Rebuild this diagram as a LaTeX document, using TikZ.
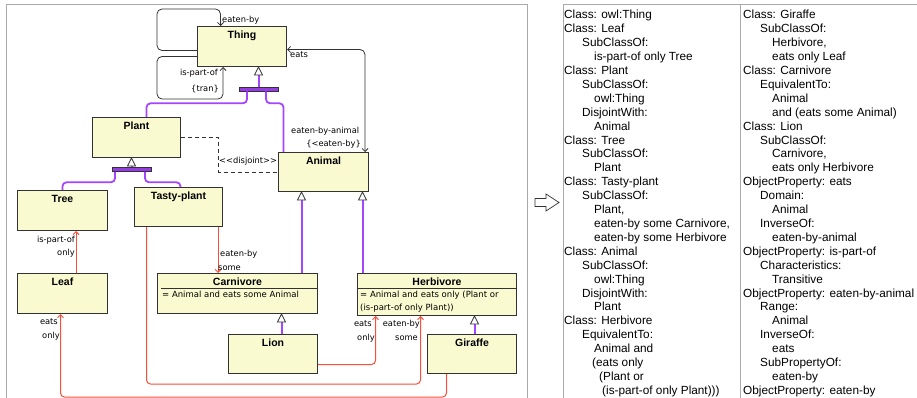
\documentclass[tikz,border=0pt]{standalone}
\usepackage{fontspec}
\setmainfont{Liberation Sans}
\newfontfamily\labfont{DejaVu Sans}
\usetikzlibrary{arrows.meta,calc}
\definecolor{boxfill}{RGB}{250,250,208}
\definecolor{boxline}{RGB}{50,50,50}
\definecolor{genpurple}{RGB}{165,70,255}
\definecolor{barpurple}{RGB}{150,60,230}
\definecolor{relred}{RGB}{248,78,58}
\definecolor{framegray}{RGB}{170,170,170}
\newcommand\genlnk[2]{\fill[genpurple] ($(#1)+(-1,0)$) rectangle ($(#2)+(1,8)$); \draw[gentri] (#2) -- ++(-4,8) -- ++(8,0) -- cycle;}
\begin{document}
\begin{tikzpicture}[x=1pt,y=-1pt,
 cls/.style={draw=boxline, fill=boxfill, line width=1pt, inner sep=0pt, anchor=north west},
 ttl/.style={font=\fontsize{10.5}{12}\selectfont\bfseries, anchor=base, inner sep=0pt},
 attr/.style={font=\labfont\fontsize{8.5}{10}\selectfont, anchor=base west, inner sep=0pt},
 lab/.style={font=\labfont\fontsize{8.3}{10}\selectfont, inner sep=0pt},
 genbar/.style={draw=boxline, fill=barpurple, line width=0.6pt, inner sep=0pt, minimum width=39pt, minimum height=4pt},
 genline/.style={draw=genpurple, line width=1.8pt},
 genbend/.style={genline, rounded corners=4pt},
 gentri/.style={draw=boxline, fill=white, line width=0.8pt, line join=miter},
 rel/.style={draw=relred, line width=1pt, -{Straight Barb[length=3pt, width=6pt]}},
 relbend/.style={rel, rounded corners=4pt},
 blk/.style={draw=boxline, line width=0.8pt, rounded corners=5pt},
 barb/.tip={Straight Barb[length=3pt, width=6pt]},
 rline/.style={font=\fontsize{11.8}{13.9}\selectfont, anchor=base west, inner sep=0pt},
 frame/.style={draw=framegray, line width=1pt}]
\useasboundingbox (0,0) rectangle (917,398);
\fill[white] (0,0) rectangle (917,398);

% frames
\draw[frame] (6,400) -- (6,5) -- (527,5) -- (527,400);
\draw[frame] (563,400) -- (563,5) -- (919,5);
\draw[frame] (740,5) -- (740,400);

% transformation arrow
\draw[draw=boxline, line width=0.7pt, fill=white] (535,198.5) -- (546,198.5) -- (546,194) -- (559,202.5) -- (546,211) -- (546,206.5) -- (535,206.5) -- cycle;

% class boxes
\node[cls, minimum width=89pt, minimum height=40pt] (thing) at (197,26) {};
\node[cls, minimum width=88pt, minimum height=40pt] (plant) at (92,117) {};
\node[cls, minimum width=90pt, minimum height=39pt] (animal) at (278,152) {};
\node[cls, minimum width=90pt, minimum height=40pt] (tree) at (17,190) {};
\node[cls, minimum width=88pt, minimum height=39pt] (tasty) at (134,187) {};
\node[cls, minimum width=90pt, minimum height=40pt] (leaf) at (17,273) {};
\node[cls, minimum width=160pt, minimum height=40pt] (carn) at (157,273) {};
\node[cls, minimum width=159pt, minimum height=42pt] (herb) at (357,273) {};
\node[cls, minimum width=89pt, minimum height=39pt] (lion) at (228,334) {};
\node[cls, minimum width=89pt, minimum height=39pt] (gir) at (427,334) {};

% titles
\node[ttl] (thingT) at ([yshift=-12.5pt]thing.north) {Thing};
\node[ttl] (plantT) at ([yshift=-12.5pt]plant.north) {Plant};
\node[ttl] (animalT) at ([yshift=-12.5pt]animal.north) {Animal};
\node[ttl] (treeT) at ([yshift=-12.5pt]tree.north) {Tree};
\node[ttl] (tastyT) at ([yshift=-12.5pt]tasty.north) {Tasty-plant};
\node[ttl] (leafT) at ([yshift=-12.5pt]leaf.north) {Leaf};
\node[ttl] (carnT) at ([yshift=-12.5pt]carn.north) {Carnivore};
\node[ttl] (herbT) at ([yshift=-12.5pt]herb.north) {Herbivore};
\node[ttl] (lionT) at ([yshift=-12.5pt]lion.north) {Lion};
\node[ttl] (girT) at ([yshift=-12.5pt]gir.north) {Giraffe};

% compartments
\draw[draw=boxline, line width=0.8pt] ([xshift=4pt,yshift=-15pt]carn.north west) -- ([xshift=-1pt,yshift=-15pt]carn.north east);
\draw[draw=boxline, line width=0.8pt] ([xshift=1pt,yshift=-15pt]herb.north west) -- ([xshift=-1pt,yshift=-15pt]herb.north east);
\node[attr] (carnA) at ([xshift=5pt,yshift=-24pt]carn.north west) {= Animal and eats some Animal};
\node[attr] (herbA1) at ([xshift=3pt,yshift=-24pt]herb.north west) {= Animal and eats only (Plant or};
\node[attr] (herbA2) at ([xshift=3pt,yshift=-37pt]herb.north west) {(is-part-of only Plant))};

% generalization bars and links
\node[genbar] (bar1) at (258.5,89) {};
\node[genbar] (bar2) at (131.5,169.5) {};
\coordinate (g1t) at (bar1.north |- thing.south);
\genlnk{bar1.north}{g1t}
\draw[genbend] ([xshift=-11.5pt]bar1.south) -- ++(0,12) -| ([xshift=10pt]plant.north);
\draw[genbend] ([xshift=7.5pt]bar1.south) -- ++(0,12) -| ([xshift=-40pt]animal.north);
\coordinate (g2t) at (bar2.north |- plant.south);
\genlnk{bar2.north}{g2t}
\draw[genbend] ([xshift=-16.5pt]bar2.south) -- ++(0,10.5) -| (tree.north);
\draw[genbend] ([xshift=13.5pt]bar2.south) -- ++(0,10.5) -| ([xshift=2pt]tasty.north);
\coordinate (g3s) at ([xshift=64pt]carn.north);
\coordinate (g3t) at ([xshift=-22pt]animal.south);
\genlnk{g3s}{g3t}
\coordinate (g4s) at ([xshift=-74.5pt]herb.north);
\coordinate (g4t) at ([xshift=39pt]animal.south);
\genlnk{g4s}{g4t}
\coordinate (g5s) at ([xshift=8.5pt]lion.north);
\coordinate (g5t) at ([xshift=44pt]carn.south);
\genlnk{g5s}{g5t}
\coordinate (g6s) at ([xshift=2.5pt]gir.north);
\coordinate (g6t) at ([xshift=37.5pt]herb.south);
\genlnk{g6s}{g6t}

% black relations on Thing
\draw[blk, -barb] ([yshift=-4pt]thing.west) -| (157,9) -| ([xshift=-21.5pt]thing.north);
\draw[blk, -barb] ([yshift=-10pt]thing.west) -| (157,99) -| ([xshift=-19pt]thing.south);
\draw[blk, barb-barb] ([yshift=-3pt]thing.east) -| ([xshift=41.5pt]animal.north);
\draw[draw=boxline, line width=0.8pt, dash pattern=on 4pt off 3pt] (plant.east) -- ++(37,0) |- (animal.west);

% red relations
\draw[rel] ([xshift=13.5pt]leaf.north) -- ([xshift=13.5pt]tree.south);
\coordinate (tp1) at ([xshift=39.5pt]tasty.south);
\draw[rel] (tp1) -- (tp1 |- carn.north);
\draw[relbend] ([xshift=-32pt]tasty.south) -- ++(0,157) -| ([xshift=-16.5pt]herb.south);
\draw[relbend] ([yshift=-10.5pt]lion.east) -| ([xshift=-61.5pt]herb.south);
\draw[relbend] ([xshift=-25.5pt]gir.south) -- ++(0,23) -| ([xshift=-2pt]leaf.south);

% labels
\node[lab, anchor=base west] (lEb) at (222,23) {eaten-by};
\node[lab, anchor=base west] (lEats) at (290,58) {eats};
\node[lab, anchor=base east] (lIpo) at (218,76) {is-part-of};
\node[lab, anchor=base east] (lTran) at (219,92) {\{tran\}};
\node[lab, anchor=base west] (lEba) at (291,134) {eaten-by-animal};
\node[lab, anchor=base east] (lSub) at (361,147) {\{<eaten-by\}};
\node[lab, anchor=base west] (lDis) at (219,164) {<<disjoint>>};
\node[lab, anchor=base east] (lIpo2) at (75,242) {is-part-of};
\node[lab, anchor=base east] (lOnly1) at (75,255) {only};
\node[lab, anchor=base west] (lEb2) at (220,256) {eaten-by};
\node[lab, anchor=base west] (lSome1) at (218,270) {some};
\node[lab, anchor=base east] (lEats2) at (58,324) {eats};
\node[lab, anchor=base east] (lOnly2) at (60,338) {only};
\node[lab, anchor=base east] (lEats3) at (372,326) {eats};
\node[lab, anchor=base east] (lOnly3) at (375,340) {only};
\node[lab, anchor=base east] (lEb3) at (420,326) {eaten-by};
\node[lab, anchor=base east] (lSome2) at (418,340) {some};

% Manchester syntax text
\foreach \ind/\txt [count=\i] in {
 0/{Class: owl:Thing}, 0/{Class: Leaf}, 18/{SubClassOf:}, 30/{is-part-of only Tree},
 0/{Class: Plant}, 18/{SubClassOf:}, 30/{owl:Thing}, 18/{DisjointWith:}, 30/{Animal},
 0/{Class: Tree}, 18/{SubClassOf:}, 30/{Plant},
 0/{Class: Tasty-plant}, 18/{SubClassOf:}, 30/{Plant,}, 30/{eaten-by some Carnivore,}, 30/{eaten-by some Herbivore},
 0/{Class: Animal}, 18/{SubClassOf:}, 30/{owl:Thing}, 18/{DisjointWith:}, 30/{Plant},
 0/{Class: Herbivore}, 18/{EquivalentTo:}, 30/{Animal and}, 28/{(eats only}, 35/{(Plant or}, 38/{(is-part-of only Plant)))}}
 \node[rline] (L\i) at ({564+\ind},{19+13.9*(\i-1)}) {\txt};
\foreach \ind/\txt [count=\i] in {
 0/{Class: Giraffe}, 17/{SubClassOf:}, 29/{Herbivore,}, 29/{eats only Leaf},
 0/{Class: Carnivore}, 17/{EquivalentTo:}, 29/{Animal}, 29/{and (eats some Animal)},
 0/{Class: Lion}, 17/{SubClassOf:}, 29/{Carnivore,}, 29/{eats only Herbivore},
 0/{ObjectProperty: eats}, 17/{Domain:}, 29/{Animal}, 17/{InverseOf:}, 29/{eaten-by-animal},
 0/{ObjectProperty: is-part-of}, 17/{Characteristics:}, 29/{Transitive},
 0/{ObjectProperty: eaten-by-animal}, 17/{Range:}, 29/{Animal}, 17/{InverseOf:}, 29/{eats},
 17/{SubPropertyOf:}, 29/{eaten-by}, 0/{ObjectProperty: eaten-by}}
 \node[rline] (R\i) at ({743+\ind},{19+13.9*(\i-1)}) {\txt};
\end{tikzpicture}
\end{document}
